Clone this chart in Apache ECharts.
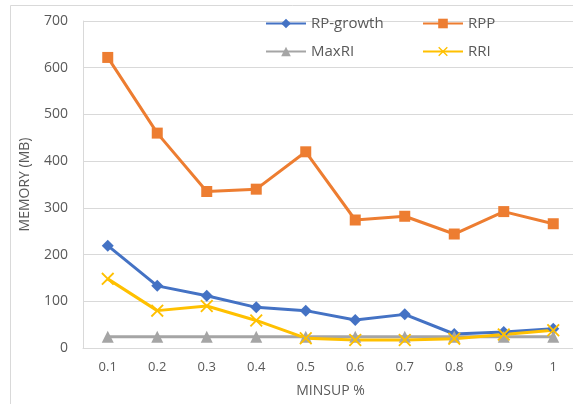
<!DOCTYPE html>
<html>
<head>
<meta charset="utf-8">
<script src="https://cdn.jsdelivr.net/npm/echarts@6/dist/echarts.min.js"></script>
<style>
  html, body { margin: 0; padding: 0; background: #fff; }
  #main { width: 573px; height: 404px; }
</style>
</head>
<body>
<div id="main"></div>
<script>
// values
var minsup = ['0.1', '0.2', '0.3', '0.4', '0.5', '0.6', '0.7', '0.8', '0.9', '1'];
var rpGrowth = [219, 133, 112, 87, 80, 60, 72, 30, 34, 41];
var rpp = [622, 460, 335, 340, 420, 274, 282, 244, 292, 266];
var maxRI = [24, 24, 24, 24, 24, 24, 24, 24, 24, 24];
var rri = [148, 80, 90, 59, 21, 17, 17, 20, 29, 38];

var xMark = 'path://M0,1L1,0L5,4L9,0L10,1L6,5L10,9L9,10L5,6L1,10L0,9L4,5Z';
var txt = '#595959';

var chart = echarts.init(document.getElementById('main'));

function line(name, data, color, symbol, size) {
    return {
        name: name,
        type: 'line',
        data: data,
        symbol: symbol,
        symbolSize: size,
        showSymbol: true,
        lineStyle: { color: color, width: 3 },
        itemStyle: { color: color },
        emphasis: { disabled: true }
    };
}

var option = {
    animation: false,
    textStyle: { fontFamily: 'Open Sans, Liberation Sans, sans-serif' },
    graphic: [{
        type: 'rect',
        shape: { x: 10.5, y: 5.5, width: 700, height: 600 },
        style: { fill: 'none', stroke: '#d9d9d9', lineWidth: 1 },
        silent: true
    }],
    legend: [{
        orient: 'vertical',
        left: 265,
        top: 16,
        padding: 0,
        itemWidth: 40,
        itemHeight: 12,
        itemGap: 13,
        textStyle: { color: txt, fontSize: 15 },
        data: ['RP-growth', 'MaxRI']
    }, {
        orient: 'vertical',
        left: 422,
        top: 16,
        padding: 0,
        itemWidth: 40,
        itemHeight: 12,
        itemGap: 13,
        textStyle: { color: txt, fontSize: 15 },
        data: ['RPP', 'RRI']
    }],
    grid: { left: 83, top: 21, width: 495, height: 327, outerBoundsMode: 'none' },
    xAxis: {
        type: 'category',
        data: minsup,
        boundaryGap: true,
        name: 'MINSUP %',
        nameLocation: 'middle',
        nameGap: 36,
        nameTextStyle: { color: txt, fontSize: 14 },
        axisLine: { lineStyle: { color: '#d9d9d9', width: 1 } },
        axisTick: { show: false },
        axisLabel: { color: txt, fontSize: 13, margin: 13 }
    },
    yAxis: {
        type: 'value',
        min: 0,
        max: 700,
        interval: 100,
        name: 'MEMORY (MB)',
        nameLocation: 'middle',
        nameGap: 51,
        nameTextStyle: { color: txt, fontSize: 14 },
        axisLine: { show: true, lineStyle: { color: '#d9d9d9', width: 1 } },
        axisTick: { show: false },
        axisLabel: { color: txt, fontSize: 14, margin: 15 },
        splitLine: { lineStyle: { color: '#d9d9d9', width: 1 } }
    },
    series: [
        line('RP-growth', rpGrowth, '#4472c4', 'diamond', 12),
        line('RPP', rpp, '#ed7d31', 'rect', 11),
        line('MaxRI', maxRI, '#a5a5a5', 'triangle', 12),
        line('RRI', rri, '#ffc000', xMark, 13)
    ]
};

chart.setOption(option);
</script>
</body>
</html>
